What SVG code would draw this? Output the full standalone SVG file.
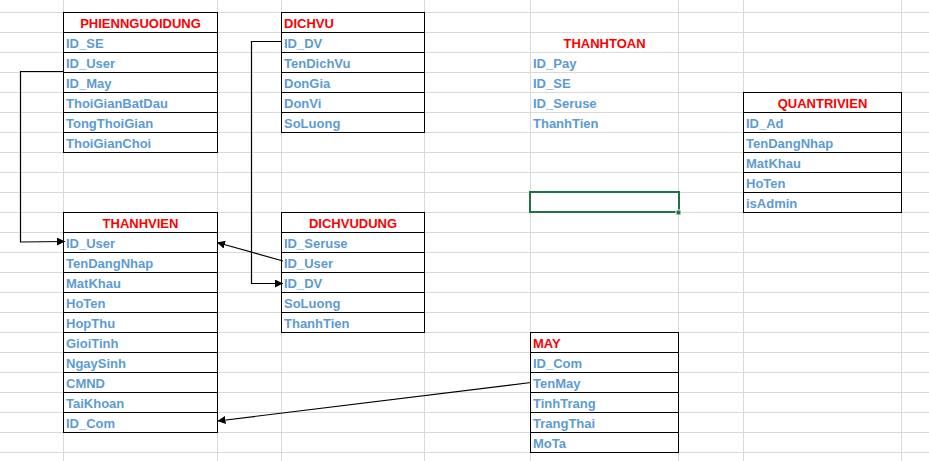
<svg xmlns="http://www.w3.org/2000/svg" width="929" height="461" viewBox="0 0 929 461">
<style>
.grid line{stroke:#d9d9d9;stroke-width:1}
.tb{fill:none;stroke:#000;stroke-width:1}
.rl{stroke:#000;stroke-width:1}
text{font-family:"Liberation Sans",Arial,sans-serif;font-size:13px;font-weight:bold}
.h{fill:#ff0000}
.f{fill:#5b9bd5}
.c{stroke:#000;stroke-width:1.2;fill:none}
</style>
<defs>
<marker id="ar" viewBox="0 0 10 10" refX="10" refY="5" markerWidth="8" markerHeight="8" markerUnits="userSpaceOnUse" orient="auto">
<path d="M0,0 L10,5 L0,10 z" fill="#000"/>
</marker>
</defs>
<rect x="0" y="0" width="929" height="461" fill="#fff"/>
<g class="grid">
<line x1="0" y1="12.5" x2="929" y2="12.5"/><line x1="0" y1="32.5" x2="929" y2="32.5"/><line x1="0" y1="52.5" x2="929" y2="52.5"/><line x1="0" y1="72.5" x2="929" y2="72.5"/><line x1="0" y1="92.5" x2="929" y2="92.5"/><line x1="0" y1="112.5" x2="929" y2="112.5"/><line x1="0" y1="132.5" x2="929" y2="132.5"/><line x1="0" y1="152.5" x2="929" y2="152.5"/><line x1="0" y1="172.5" x2="929" y2="172.5"/><line x1="0" y1="192.5" x2="929" y2="192.5"/><line x1="0" y1="212.5" x2="929" y2="212.5"/><line x1="0" y1="232.5" x2="929" y2="232.5"/><line x1="0" y1="252.5" x2="929" y2="252.5"/><line x1="0" y1="272.5" x2="929" y2="272.5"/><line x1="0" y1="292.5" x2="929" y2="292.5"/><line x1="0" y1="312.5" x2="929" y2="312.5"/><line x1="0" y1="332.5" x2="929" y2="332.5"/><line x1="0" y1="352.5" x2="929" y2="352.5"/><line x1="0" y1="372.5" x2="929" y2="372.5"/><line x1="0" y1="392.5" x2="929" y2="392.5"/><line x1="0" y1="412.5" x2="929" y2="412.5"/><line x1="0" y1="432.5" x2="929" y2="432.5"/><line x1="0" y1="452.5" x2="929" y2="452.5"/>
<line x1="63.5" y1="0" x2="63.5" y2="461"/><line x1="217.5" y1="0" x2="217.5" y2="461"/><line x1="281.5" y1="0" x2="281.5" y2="461"/><line x1="424.5" y1="0" x2="424.5" y2="461"/><line x1="530.5" y1="0" x2="530.5" y2="461"/><line x1="678.5" y1="0" x2="678.5" y2="461"/><line x1="743.5" y1="0" x2="743.5" y2="461"/><line x1="901.5" y1="0" x2="901.5" y2="461"/>
</g>

<g id="phiennguoidung">
<rect class="tb" x="63.5" y="12.5" width="154" height="140"/>
<line class="rl" x1="63" y1="32.5" x2="218" y2="32.5"/><line class="rl" x1="63" y1="52.5" x2="218" y2="52.5"/><line class="rl" x1="63" y1="72.5" x2="218" y2="72.5"/><line class="rl" x1="63" y1="92.5" x2="218" y2="92.5"/><line class="rl" x1="63" y1="112.5" x2="218" y2="112.5"/><line class="rl" x1="63" y1="132.5" x2="218" y2="132.5"/>
<text class="h" x="140.5" y="28" text-anchor="middle">PHIENNGUOIDUNG</text>
<text class="f" x="66" y="48">ID_SE</text>
<text class="f" x="66" y="68">ID_User</text>
<text class="f" x="66" y="88">ID_May</text>
<text class="f" x="66" y="108">ThoiGianBatDau</text>
<text class="f" x="66" y="128">TongThoiGian</text>
<text class="f" x="66" y="148">ThoiGianChoi</text>
</g>

<g id="dichvu">
<rect class="tb" x="281.5" y="12.5" width="143" height="120"/>
<line class="rl" x1="281" y1="32.5" x2="425" y2="32.5"/><line class="rl" x1="281" y1="52.5" x2="425" y2="52.5"/><line class="rl" x1="281" y1="72.5" x2="425" y2="72.5"/><line class="rl" x1="281" y1="92.5" x2="425" y2="92.5"/><line class="rl" x1="281" y1="112.5" x2="425" y2="112.5"/>
<text class="h" x="284" y="28">DICHVU</text>
<text class="f" x="284" y="48">ID_DV</text>
<text class="f" x="284" y="68">TenDichVu</text>
<text class="f" x="284" y="88">DonGia</text>
<text class="f" x="284" y="108">DonVi</text>
<text class="f" x="284" y="128">SoLuong</text>
</g>

<g id="thanhvien">
<rect class="tb" x="63.5" y="212.5" width="154" height="220"/>
<line class="rl" x1="63" y1="232.5" x2="218" y2="232.5"/><line class="rl" x1="63" y1="252.5" x2="218" y2="252.5"/><line class="rl" x1="63" y1="272.5" x2="218" y2="272.5"/><line class="rl" x1="63" y1="292.5" x2="218" y2="292.5"/><line class="rl" x1="63" y1="312.5" x2="218" y2="312.5"/><line class="rl" x1="63" y1="332.5" x2="218" y2="332.5"/><line class="rl" x1="63" y1="352.5" x2="218" y2="352.5"/><line class="rl" x1="63" y1="372.5" x2="218" y2="372.5"/><line class="rl" x1="63" y1="392.5" x2="218" y2="392.5"/><line class="rl" x1="63" y1="412.5" x2="218" y2="412.5"/>
<text class="h" x="140.5" y="228" text-anchor="middle">THANHVIEN</text>
<text class="f" x="66" y="248">ID_User</text>
<text class="f" x="66" y="268">TenDangNhap</text>
<text class="f" x="66" y="288">MatKhau</text>
<text class="f" x="66" y="308">HoTen</text>
<text class="f" x="66" y="328">HopThu</text>
<text class="f" x="66" y="348">GioiTinh</text>
<text class="f" x="66" y="368">NgaySinh</text>
<text class="f" x="66" y="388">CMND</text>
<text class="f" x="66" y="408">TaiKhoan</text>
<text class="f" x="66" y="428">ID_Com</text>
</g>

<g id="dichvudung">
<rect class="tb" x="281.5" y="212.5" width="143" height="120"/>
<line class="rl" x1="281" y1="232.5" x2="425" y2="232.5"/><line class="rl" x1="281" y1="252.5" x2="425" y2="252.5"/><line class="rl" x1="281" y1="272.5" x2="425" y2="272.5"/><line class="rl" x1="281" y1="292.5" x2="425" y2="292.5"/><line class="rl" x1="281" y1="312.5" x2="425" y2="312.5"/>
<text class="h" x="353" y="228" text-anchor="middle">DICHVUDUNG</text>
<text class="f" x="284" y="248">ID_Seruse</text>
<text class="f" x="284" y="268">ID_User</text>
<text class="f" x="284" y="288">ID_DV</text>
<text class="f" x="284" y="308">SoLuong</text>
<text class="f" x="284" y="328">ThanhTien</text>
</g>

<g id="thanhtoan">
<text class="h" x="604.5" y="48" text-anchor="middle">THANHTOAN</text>
<text class="f" x="533" y="68">ID_Pay</text>
<text class="f" x="533" y="88">ID_SE</text>
<text class="f" x="533" y="108">ID_Seruse</text>
<text class="f" x="533" y="128">ThanhTien</text>
</g>

<g id="selection">
<rect x="530" y="192" width="149" height="20" fill="none" stroke="#217346" stroke-width="2"/>
<rect x="676" y="210" width="5" height="5" fill="#217346" stroke="#fff" stroke-width="1"/>
</g>

<g id="quantrivien">
<rect class="tb" x="743.5" y="92.5" width="158" height="120"/>
<line class="rl" x1="743" y1="112.5" x2="902" y2="112.5"/><line class="rl" x1="743" y1="132.5" x2="902" y2="132.5"/><line class="rl" x1="743" y1="152.5" x2="902" y2="152.5"/><line class="rl" x1="743" y1="172.5" x2="902" y2="172.5"/><line class="rl" x1="743" y1="192.5" x2="902" y2="192.5"/>
<text class="h" x="822.5" y="108" text-anchor="middle">QUANTRIVIEN</text>
<text class="f" x="746" y="128">ID_Ad</text>
<text class="f" x="746" y="148">TenDangNhap</text>
<text class="f" x="746" y="168">MatKhau</text>
<text class="f" x="746" y="188">HoTen</text>
<text class="f" x="746" y="208">isAdmin</text>
</g>

<g id="may">
<rect class="tb" x="530.5" y="332.5" width="148" height="120"/>
<line class="rl" x1="530" y1="352.5" x2="679" y2="352.5"/><line class="rl" x1="530" y1="372.5" x2="679" y2="372.5"/><line class="rl" x1="530" y1="392.5" x2="679" y2="392.5"/><line class="rl" x1="530" y1="412.5" x2="679" y2="412.5"/><line class="rl" x1="530" y1="432.5" x2="679" y2="432.5"/>
<text class="h" x="533" y="348">MAY</text>
<text class="f" x="533" y="368">ID_Com</text>
<text class="f" x="533" y="388">TenMay</text>
<text class="f" x="533" y="408">TinhTrang</text>
<text class="f" x="533" y="428">TrangThai</text>
<text class="f" x="533" y="448">MoTa</text>
</g>

<g id="connectors">
<polyline class="c" points="63,71.5 20.5,71.5 20.5,242 65,241.5" marker-end="url(#ar)"/>
<polyline class="c" points="281,41.5 251.5,41.5 251.5,283.5 283,283.5" marker-end="url(#ar)"/>
<line class="c" x1="283" y1="261" x2="217" y2="242.5" marker-end="url(#ar)"/>
<line class="c" x1="531" y1="382.5" x2="217.5" y2="421" marker-end="url(#ar)"/>
</g>
</svg>
